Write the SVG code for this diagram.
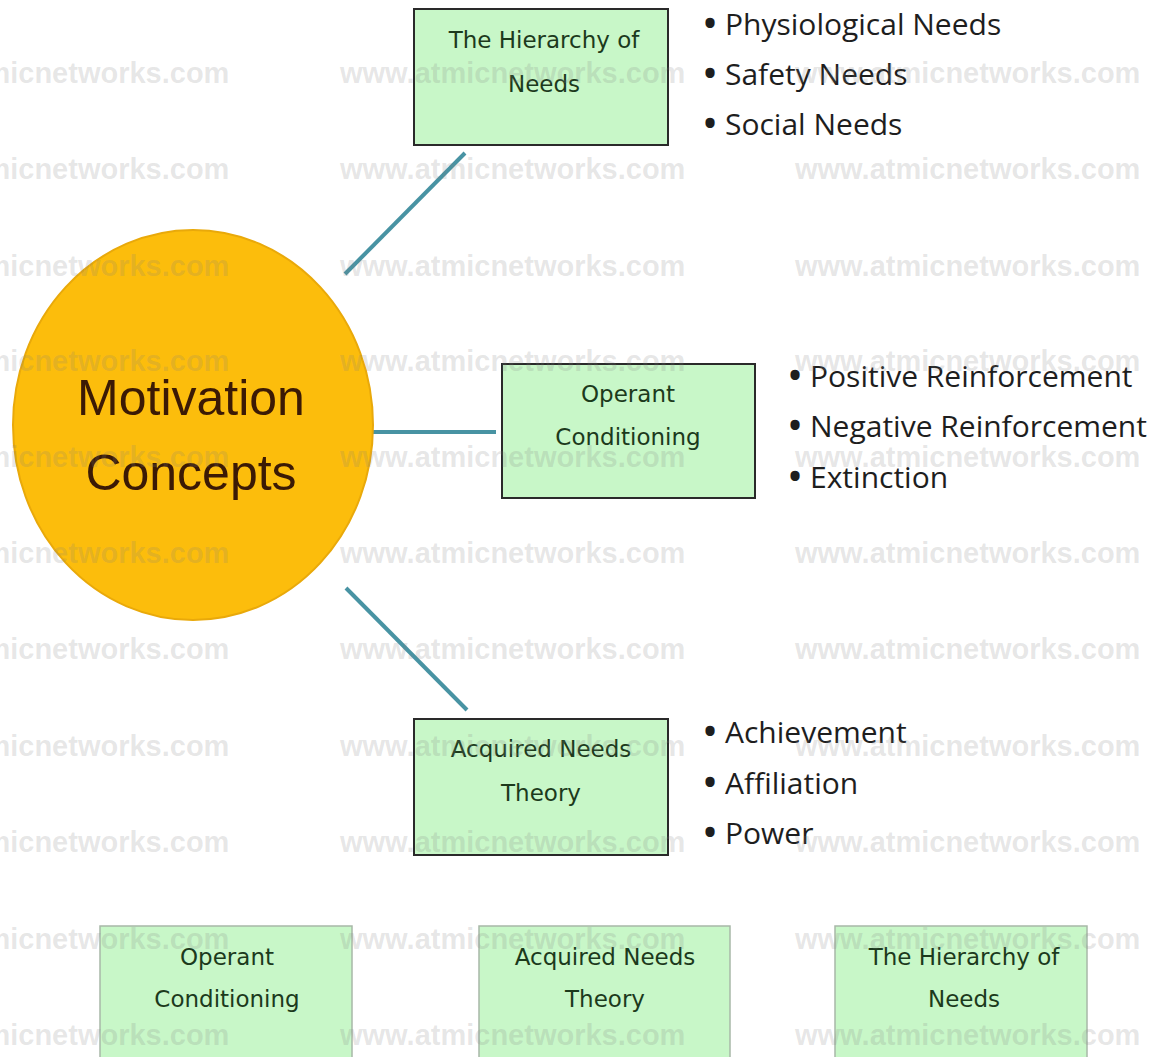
<svg xmlns="http://www.w3.org/2000/svg" width="1158" height="1057" viewBox="0 0 1158 1057">
<style>
.box{fill:#c8f7c8;stroke:#2a2a2a;stroke-width:2}
.box2{fill:#c8f7c8;stroke:#a8b8a8;stroke-width:1.5}
.lbl{font-family:"DejaVu Sans",Verdana,sans-serif;font-size:23px;fill:#1c3a1c;text-anchor:middle}
.bul{font-family:"Open Sans","Noto Sans",sans-serif;font-size:30px;fill:#1e1e1e}
.dot{font-family:"Open Sans","Noto Sans",sans-serif;font-size:44px;fill:#1e1e1e;text-anchor:middle}
.con{stroke:#4893a3;stroke-width:4;stroke-linecap:butt;fill:none}
.wm{font-family:"Liberation Sans",Arial,sans-serif;font-weight:bold;font-size:29px;fill:#808080;fill-opacity:0.2}
</style>
<rect width="1158" height="1057" fill="#ffffff"/>
<g id="connectors">
<line class="con" x1="345" y1="274" x2="465" y2="153"/>
<line class="con" x1="373" y1="432" x2="496" y2="432"/>
<line class="con" x1="346" y1="588" x2="467" y2="710"/>
</g>
<g id="motivation">
<ellipse cx="193" cy="425" rx="180" ry="195" fill="#fcbd0c" stroke="#e9a90a" stroke-width="2"/>
<text x="191" y="415" font-family="Liberation Sans,Arial,sans-serif" font-size="50" fill="#3b1a05" text-anchor="middle">Motivation</text>
<text x="191" y="490" font-family="Liberation Sans,Arial,sans-serif" font-size="50" fill="#3b1a05" text-anchor="middle">Concepts</text>
</g>
<g id="hierarchy">
<rect class="box" x="414" y="9" width="254" height="136"/>
<text class="lbl" x="544" y="48">The Hierarchy of</text>
<text class="lbl" x="544" y="92">Needs</text>
</g>
<g id="hierarchy-list">
<text class="dot" x="710" y="39">•</text><text class="bul" x="725" y="35">Physiological Needs</text>
<text class="dot" x="710" y="89">•</text><text class="bul" x="725" y="85">Safety Needs</text>
<text class="dot" x="710" y="139">•</text><text class="bul" x="725" y="135">Social Needs</text>
</g>
<g id="operant">
<rect class="box" x="502" y="364" width="253" height="134"/>
<text class="lbl" x="628" y="402">Operant</text>
<text class="lbl" x="628" y="445">Conditioning</text>
</g>
<g id="operant-list">
<text class="dot" x="795" y="391">•</text><text class="bul" x="810" y="387">Positive Reinforcement</text>
<text class="dot" x="795" y="441">•</text><text class="bul" x="810" y="437">Negative Reinforcement</text>
<text class="dot" x="795" y="492">•</text><text class="bul" x="810" y="488">Extinction</text>
</g>
<g id="acquired">
<rect class="box" x="414" y="719" width="254" height="136"/>
<text class="lbl" x="541" y="757">Acquired Needs</text>
<text class="lbl" x="541" y="801">Theory</text>
</g>
<g id="acquired-list">
<text class="dot" x="710" y="747">•</text><text class="bul" x="725" y="743">Achievement</text>
<text class="dot" x="710" y="798">•</text><text class="bul" x="725" y="794">Affiliation</text>
<text class="dot" x="710" y="848">•</text><text class="bul" x="725" y="844">Power</text>
</g>
<g id="legend-operant">
<rect class="box2" x="100" y="926" width="252" height="140"/>
<text class="lbl" x="227" y="965">Operant</text>
<text class="lbl" x="227" y="1007">Conditioning</text>
</g>
<g id="legend-acquired">
<rect class="box2" x="479" y="926" width="251" height="140"/>
<text class="lbl" x="605" y="965">Acquired Needs</text>
<text class="lbl" x="605" y="1007">Theory</text>
</g>
<g id="legend-hierarchy">
<rect class="box2" x="835" y="926" width="252" height="140"/>
<text class="lbl" x="964" y="965">The Hierarchy of</text>
<text class="lbl" x="964" y="1007">Needs</text>
</g>
<g id="watermark" class="wm">
<text x="-116" y="83">www.atmicnetworks.com</text><text x="340" y="83">www.atmicnetworks.com</text><text x="795" y="83">www.atmicnetworks.com</text>
<text x="-116" y="179">www.atmicnetworks.com</text><text x="340" y="179">www.atmicnetworks.com</text><text x="795" y="179">www.atmicnetworks.com</text>
<text x="-116" y="276">www.atmicnetworks.com</text><text x="340" y="276">www.atmicnetworks.com</text><text x="795" y="276">www.atmicnetworks.com</text>
<text x="-116" y="371">www.atmicnetworks.com</text><text x="340" y="371">www.atmicnetworks.com</text><text x="795" y="371">www.atmicnetworks.com</text>
<text x="-116" y="467">www.atmicnetworks.com</text><text x="340" y="467">www.atmicnetworks.com</text><text x="795" y="467">www.atmicnetworks.com</text>
<text x="-116" y="563">www.atmicnetworks.com</text><text x="340" y="563">www.atmicnetworks.com</text><text x="795" y="563">www.atmicnetworks.com</text>
<text x="-116" y="659">www.atmicnetworks.com</text><text x="340" y="659">www.atmicnetworks.com</text><text x="795" y="659">www.atmicnetworks.com</text>
<text x="-116" y="756">www.atmicnetworks.com</text><text x="340" y="756">www.atmicnetworks.com</text><text x="795" y="756">www.atmicnetworks.com</text>
<text x="-116" y="852">www.atmicnetworks.com</text><text x="340" y="852">www.atmicnetworks.com</text><text x="795" y="852">www.atmicnetworks.com</text>
<text x="-116" y="949">www.atmicnetworks.com</text><text x="340" y="949">www.atmicnetworks.com</text><text x="795" y="949">www.atmicnetworks.com</text>
<text x="-116" y="1045">www.atmicnetworks.com</text><text x="340" y="1045">www.atmicnetworks.com</text><text x="795" y="1045">www.atmicnetworks.com</text>
</g>
</svg>
